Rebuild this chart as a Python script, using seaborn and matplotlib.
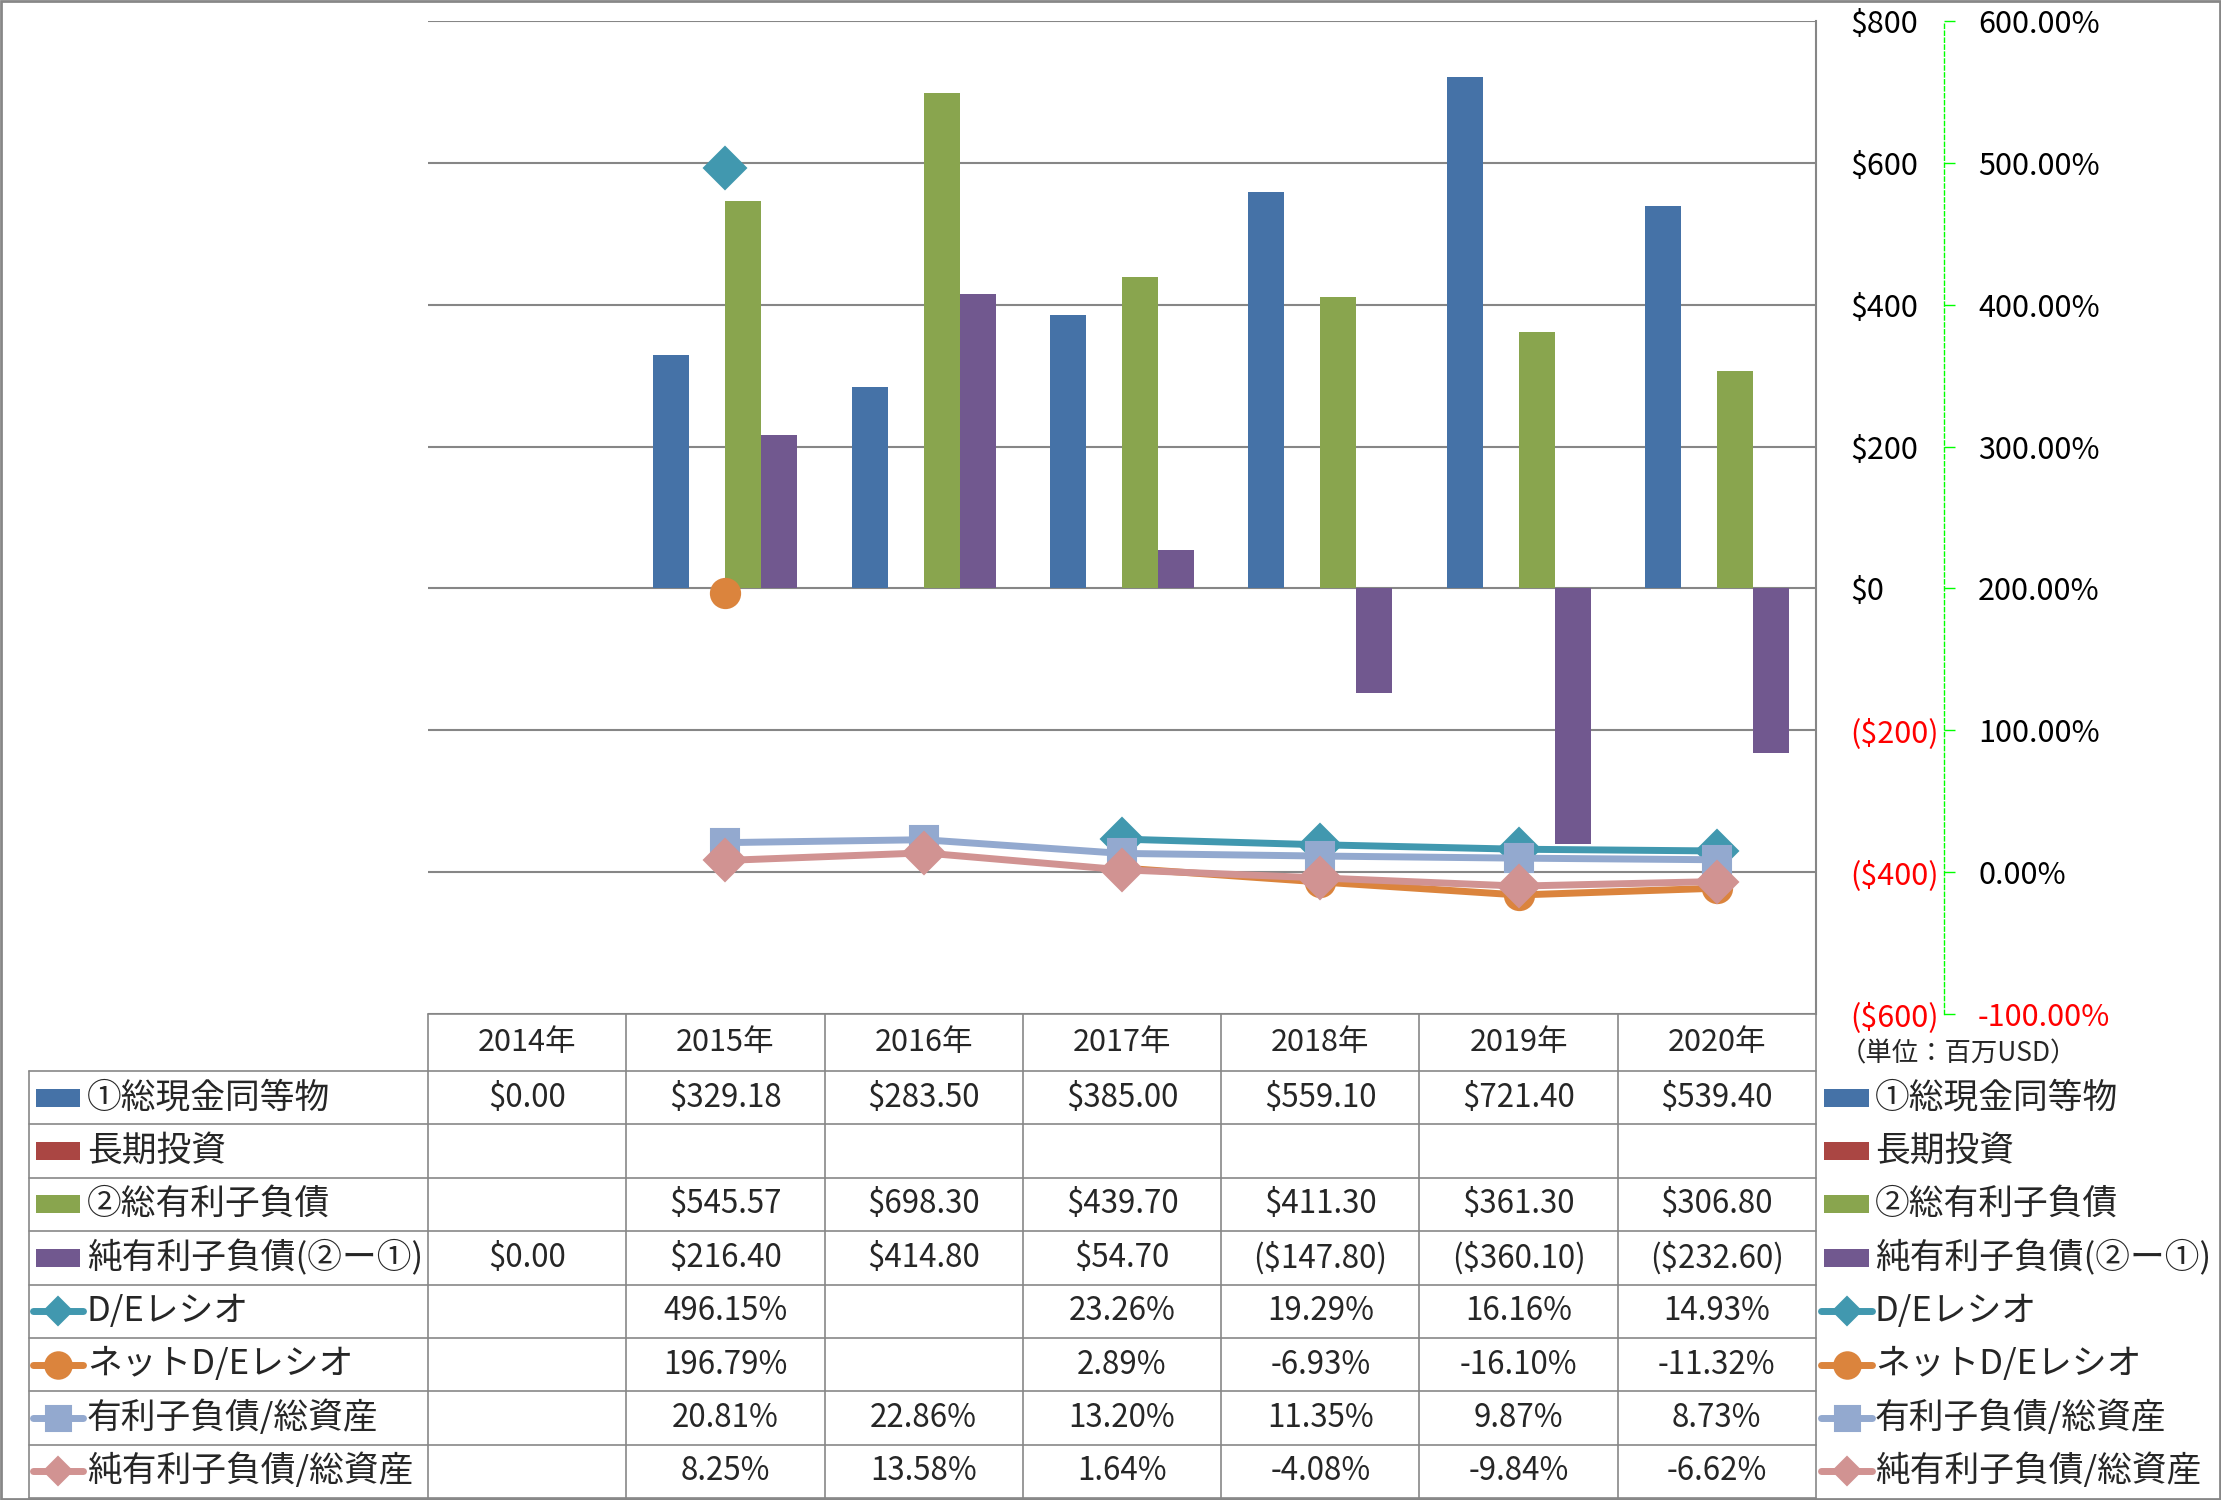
import numpy as np
import pandas as pd
import matplotlib
matplotlib.use("Agg")
import matplotlib.pyplot as plt
import seaborn as sns
from matplotlib.patches import Rectangle

# ---------------- data ----------------
years = ["2014年", "2015年", "2016年", "2017年", "2018年", "2019年", "2020年"]
cash = [0.00, 329.18, 283.50, 385.00, 559.10, 721.40, 539.40]
long_inv = [np.nan, np.nan, np.nan, np.nan, np.nan, np.nan, np.nan]
debt = [np.nan, 545.57, 698.30, 439.70, 411.30, 361.30, 306.80]
net_debt = [0.00, 216.40, 414.80, 54.70, -147.80, -360.10, -232.60]

de_ratio = [np.nan, 496.15, np.nan, 23.26, 19.29, 16.16, 14.93]
net_de_ratio = [np.nan, 196.79, np.nan, 2.89, -6.93, -16.10, -11.32]
debt_assets = [np.nan, 20.81, 22.86, 13.20, 11.35, 9.87, 8.73]
net_debt_assets = [np.nan, 8.25, 13.58, 1.64, -4.08, -9.84, -6.62]

bar_names = ["①総現金同等物", "長期投資", "②総有利子負債", "純有利子負債(②ー①)"]
line_names = ["D/Eレシオ", "ネットD/Eレシオ", "有利子負債/総資産", "純有利子負債/総資産"]
usd_ticks = [-600, -400, -200, 0, 200, 400, 600, 800]
pct_ticks = [-100, 0, 100, 200, 300, 400, 500, 600]
unit_label = "（単位：百万USD）"

# ---------------- styles ----------------
bar_colors = ["#4572A7", "#AA4643", "#89A54E", "#71588F"]
line_colors = ["#4198AF", "#DB843D", "#93A9CF", "#D19392"]
line_markers = ["D", "o", "s", "D"]
line_ms = [21, 21, 20, 21]
legend_ms = [14, 19, 18, 14]
grid_col = "#868686"

sns.set_style("white")
plt.rcParams["font.family"] = ["Noto Sans CJK JP", "DejaVu Sans"]

W, H = 2221, 1500
fig = plt.figure(figsize=(W / 100, H / 100), dpi=100)
fig.patch.set_facecolor("white")

PL, PR, PT, PB = 428, 1816, 21, 1014
ax = fig.add_axes([PL / W, 1 - PB / H, (PR - PL) / W, (PB - PT) / H])

bar_series = [cash, long_inv, debt, net_debt]
df = pd.DataFrame({
    "year": np.repeat([years], 4, axis=0).ravel(),
    "series": np.repeat(bar_names, len(years)),
    "value": np.concatenate([np.array(s, dtype=float) for s in bar_series]),
})
sns.barplot(data=df, x="year", y="value", hue="series", order=years,
            hue_order=bar_names, palette=dict(zip(bar_names, bar_colors)),
            width=0.726, gap=0, saturation=1, errorbar=None, legend=False,
            linewidth=0, ax=ax)
ax.set_xlim(-0.5, len(years) - 0.5)
ax.set_ylim(-600, 800)
ax.set_xlabel("")
ax.set_ylabel("")
ax.set_axisbelow(True)
ax.grid(axis="y", color=grid_col, lw=1.5)
ax.grid(axis="x", visible=False)

# secondary axis with ratio lines
ax2 = ax.twinx()
ax2.set_ylim(-100, 600)
ax2.set_xlim(-0.5, len(years) - 0.5)
xs = np.arange(len(years))
for vals, col, mk, ms in zip([de_ratio, net_de_ratio, debt_assets, net_debt_assets],
                             line_colors, line_markers, line_ms):
    ax2.plot(xs, vals, color=col, lw=5, marker=mk, ms=ms, mfc=col, mec=col,
             mew=1.5, solid_joinstyle="round", solid_capstyle="round")
for s in ["left", "top", "bottom"]:
    ax2.spines[s].set_visible(False)
ax2.spines["right"].set_position(("outward", 92.16))
ax2.spines["right"].set_color("#00FF00")
ax2.spines["right"].set_linestyle((0, (3, 2)))
ax2.spines["right"].set_linewidth(1)
ax2.set_yticks(pct_ticks, labels=[f"{v:.2f}%" for v in pct_ticks])
ax2.tick_params(axis="y", direction="out", length=8, width=1, color="#00FF00",
                pad=16.5, labelsize=22)
ax2.grid(False)

# primary axis: labels on the right, after twinx
for s in ["left", "top", "bottom"]:
    ax.spines[s].set_visible(False)
ax.spines["right"].set_visible(True)
ax.spines["right"].set_color(grid_col)
ax.spines["right"].set_linewidth(1.5)
ax.tick_params(axis="x", bottom=False, labelbottom=False)


def usd_fmt(v):
    return f"(${-v:,.0f})" if v < 0 else f"${v:,.0f}"


ax.set_yticks(usd_ticks, labels=[usd_fmt(v) for v in usd_ticks])
ax.yaxis.tick_right()
ax.tick_params(axis="y", length=0, pad=24.5, labelsize=22,
               left=False, labelleft=False, right=True, labelright=True)
for tk, v in zip(ax.yaxis.get_major_ticks(), usd_ticks):
    tk.label2.set_color("#FF0000" if v < 0 else "black")
for tk, v in zip(ax2.yaxis.get_major_ticks(), pct_ticks):
    tk.label2.set_color("#FF0000" if v < 0 else "black")

# ---------------- data table overlay ----------------
ov = fig.add_axes([0, 0, 1, 1], zorder=5)
ov.set_xlim(0, W)
ov.set_ylim(H, 0)
ov.axis("off")
ov.patch.set_visible(False)

tcol = "#878787"
col_w = (PR - PL) / len(years)
hdr_top, hdr_bot, tab_bot = 1014, 1071, 1498
nrows = 8
row_h = (tab_bot - hdr_bot) / nrows
LX = 29

ov.plot([PL, PR], [hdr_top, hdr_top], color=tcol, lw=1.2)
for i in range(nrows + 1):
    y = hdr_bot + i * row_h
    ov.plot([LX, PR], [y, y], color=tcol, lw=1.2)
ov.plot([LX, LX], [hdr_bot, tab_bot], color=tcol, lw=1.2)
for k in range(len(years) + 1):
    x = PL + k * col_w
    ov.plot([x, x], [hdr_top, tab_bot], color=tcol, lw=1.2)

for k, yr in enumerate(years):
    ov.text(PL + (k + 0.5) * col_w, (hdr_top + hdr_bot) / 2, yr,
            ha="center", va="center", fontsize=22)


def money(v):
    if v is None or np.isnan(v):
        return ""
    return f"(${-v:,.2f})" if v < 0 else f"${v:,.2f}"


def pct(v):
    if v is None or np.isnan(v):
        return ""
    return f"{v:.2f}%"


rows = [(bar_names[i], bar_series[i], money, "bar", bar_colors[i], None, None)
        for i in range(4)]
line_series = [de_ratio, net_de_ratio, debt_assets, net_debt_assets]
rows += [(line_names[i], line_series[i], pct, "line", line_colors[i],
          line_markers[i], legend_ms[i]) for i in range(4)]


def draw_key(xc, yc, kind, col, mk, ms, x0, x1):
    if kind == "bar":
        ov.add_patch(Rectangle((x0 + 3, yc - 9), (x1 - x0) - 6, 18,
                               facecolor=col, edgecolor="none"))
    else:
        ov.plot([x0, x1], [yc, yc], color=col, lw=5, solid_capstyle="round")
        ov.plot([xc], [yc], marker=mk, ms=ms, color=col, mec=col, mew=1.5)


for i, (name, vals, fmt, kind, col, mk, ms) in enumerate(rows):
    yc = hdr_bot + (i + 0.5) * row_h
    draw_key(58, yc, kind, col, mk, ms, 33, 83)
    ov.text(87, yc, name, ha="left", va="center", fontsize=25)
    for k, v in enumerate(vals):
        ov.text(PL + (k + 0.5) * col_w, yc, fmt(v), ha="center", va="center",
                fontsize=22.5)
    draw_key(1847, yc, kind, col, mk, ms, 1821, 1872)
    ov.text(1875, yc, name, ha="left", va="center", fontsize=25)

ov.text(1840, 1054, unit_label, ha="left", va="center", fontsize=19)

ov.add_patch(Rectangle((1, 1), W - 2, H - 2, facecolor="none",
                       edgecolor="#878787", lw=2))

fig.savefig("out.png", dpi=100, facecolor="white")
